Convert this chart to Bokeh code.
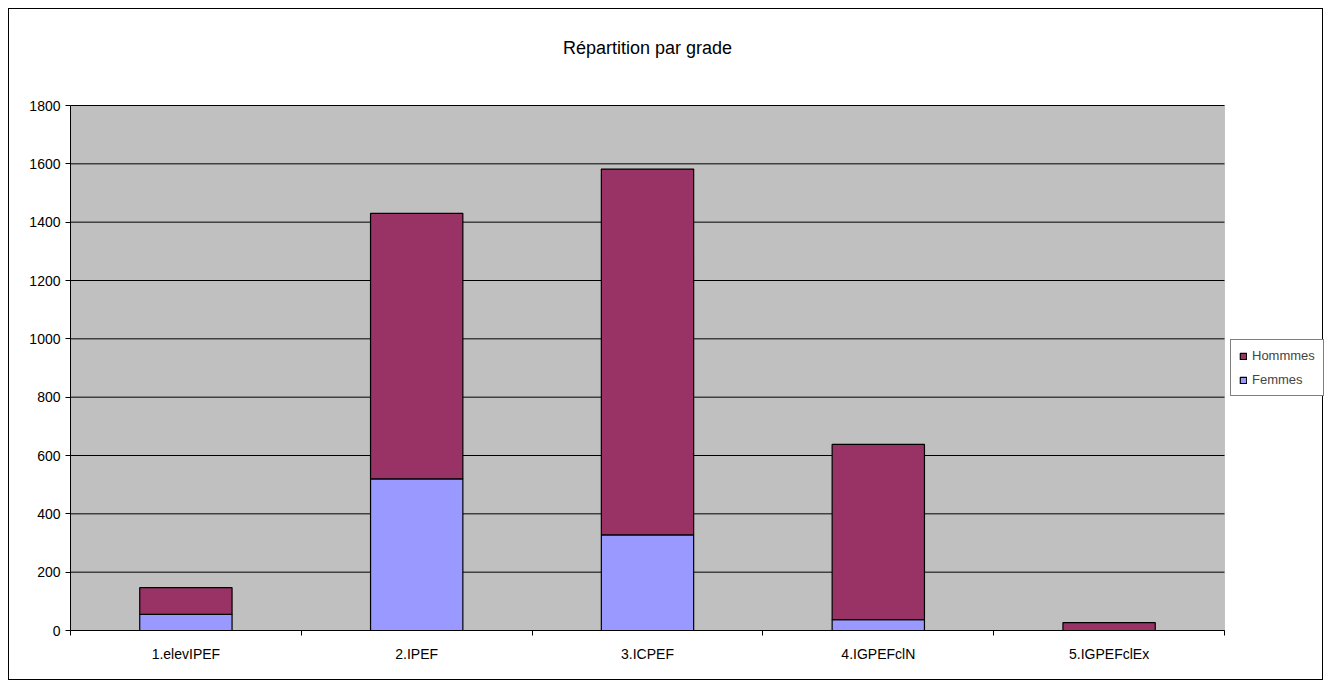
from bokeh.plotting import figure
from bokeh.models import (Range1d, LinearAxis, FixedTicker, BoxAnnotation, Label,
                          Legend, LegendItem)
from bokeh.embed import file_html
from bokeh.resources import INLINE

categories = ["1.elevIPEF", "2.IPEF", "3.ICPEF", "4.IGPEFclN", "5.IGPEFclEx"]
femmes = [55, 520, 328, 37, 0]
hommes = [92, 910, 1254, 601, 27]
series = ["Femmes", "Hommmes"]
colors = ["#9999FF", "#993366"]
title_text = "Répartition par grade"
y_ticks = list(range(0, 1801, 200))

FONT = "Liberation Sans"
n = len(categories)
centers = [i + 0.5 for i in range(n)]
bounds = list(range(n + 1))

# The frame covers the whole canvas above the x axis and right of the y axis,
# so that the title and the legend can be drawn inside it.
W, H = 1315, 672
LEFT, BOTTOM = 61, 51
PLOT_W, PLOT_H = 1154.0, 525.0          # pixel size of the grey plot area
frame_w, frame_h = W - LEFT, H - BOTTOM
y_max = y_ticks[-1]
x_end = n * frame_w / PLOT_W
y_end = y_max * frame_h / PLOT_H

p = figure(width=W, height=H, output_backend="svg", toolbar_location=None,
           x_range=Range1d(0, x_end), y_range=Range1d(0, y_end),
           x_axis_location=None, min_border_left=LEFT, min_border_right=0,
           min_border_top=0, min_border_bottom=BOTTOM)
p.styles = {"border": "1px solid black", "margin-left": "8px", "margin-top": "8px"}
p.background_fill_color = "white"
p.border_fill_color = "white"
p.outline_line_color = None

# grey plot area
p.add_layout(BoxAnnotation(left=0, right=n, bottom=y_ticks[0], top=y_max,
                           fill_color="#C0C0C0", fill_alpha=1,
                           line_color="#808080", line_width=1, level="image"))
p.xgrid.grid_line_color = None
p.ygrid.grid_line_color = None
p.segment(x0=[0] * len(y_ticks), x1=[n] * len(y_ticks), y0=y_ticks, y1=y_ticks,
          line_color="black", line_width=1)

data = {"x": centers, "Femmes": femmes, "Hommmes": hommes}
rs = p.vbar_stack(series, x="x", width=0.4, source=data, color=colors,
                  line_color="black", line_width=1.2)

# title
p.add_layout(Label(x=n / 2, y=y_max * (583.0 / PLOT_H), text=title_text,
                   text_align="center", text_baseline="middle",
                   text_font=FONT, text_font_size="18px", text_color="black"))

# y axis
yax = p.yaxis[0]
yax.ticker = FixedTicker(ticks=y_ticks, minor_ticks=[])
yax.bounds = (0, y_max)
yax.axis_line_color = "black"
yax.major_tick_out = 5
yax.major_tick_in = 0
yax.minor_tick_line_color = None
yax.major_label_standoff = 5
yax.major_label_text_font = FONT
yax.major_label_text_font_size = "14px"
yax.major_label_text_color = "black"

# x axis: category labels at centres, ticks at category boundaries (minor ticks)
xax = LinearAxis(ticker=FixedTicker(ticks=centers, minor_ticks=bounds),
                 major_label_overrides={c: lab for c, lab in zip(centers, categories)},
                 bounds=(0, n),
                 axis_line_color="black", major_tick_line_color=None,
                 major_tick_out=0, major_tick_in=0,
                 minor_tick_line_color="black", minor_tick_out=5, minor_tick_in=0,
                 major_label_standoff=10, major_label_text_font=FONT,
                 major_label_text_font_size="14px", major_label_text_color="black")
p.add_layout(xax, "below")

legend = Legend(items=[LegendItem(label="Hommmes", renderers=[rs[1]]),
                       LegendItem(label="Femmes", renderers=[rs[0]])],
                location=(1160, 234), orientation="vertical",
                border_line_color="black", border_line_width=1,
                background_fill_color="white", background_fill_alpha=1,
                label_text_font=FONT, label_text_font_size="13px",
                glyph_width=8, glyph_height=8, label_height=14, spacing=9,
                padding=8, margin=0, label_standoff=5)
p.add_layout(legend, "center")

open("out.html", "w").write(file_html(p, INLINE))
